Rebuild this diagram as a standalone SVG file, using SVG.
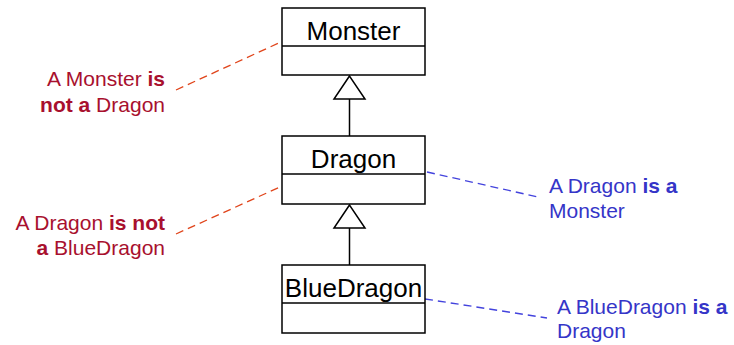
<svg xmlns="http://www.w3.org/2000/svg" width="734" height="345" viewBox="0 0 734 345">
<style>
.box{fill:#fff;stroke:#000;stroke-width:1.5}
.cls{font-family:"Liberation Sans",Arial,sans-serif;font-size:26px;fill:#000;text-anchor:middle}
.inh{fill:none;stroke:#000;stroke-width:1.5}
.tri{fill:#fff;stroke:#000;stroke-width:1.5}
.rl{stroke:#E0441A;stroke-width:1.3;stroke-dasharray:8 5;fill:none}
.bl{stroke:#4343DD;stroke-width:1.3;stroke-dasharray:8 5;fill:none}
.rt{font-family:"Liberation Sans",Arial,sans-serif;font-size:21px;fill:#A8102E;text-anchor:end}
.bt{font-family:"Liberation Sans",Arial,sans-serif;font-size:21px;fill:#3535C8}
.b{font-weight:bold}
</style>
<g id="connectors">
<line class="inh" x1="349.5" y1="99" x2="349.5" y2="136"/>
<polygon class="tri" points="349.5,76 334,99 365,99"/>
<line class="inh" x1="349.5" y1="228" x2="349.5" y2="265"/>
<polygon class="tri" points="349.5,205 334,228 365,228"/>
<line class="rl" x1="176" y1="90" x2="281" y2="42"/>
<line class="rl" x1="176" y1="234" x2="280" y2="187"/>
<line class="bl" x1="427" y1="172" x2="538" y2="197"/>
<line class="bl" x1="425" y1="299" x2="547" y2="318"/>
</g>
<g id="monster">
<rect class="box" x="282" y="8" width="143" height="67"/>
<line class="box" x1="282" y1="46" x2="425" y2="46"/>
<text class="cls" x="353.5" y="40">Monster</text>
</g>
<g id="dragon">
<rect class="box" x="282" y="136" width="143" height="68"/>
<line class="box" x1="282" y1="174" x2="425" y2="174"/>
<text class="cls" x="353.5" y="168">Dragon</text>
</g>
<g id="bluedragon">
<rect class="box" x="282" y="265" width="143" height="68"/>
<line class="box" x1="282" y1="303" x2="425" y2="303"/>
<text class="cls" x="353.5" y="297">BlueDragon</text>
</g>
<g id="note-monster-not-dragon">
<text class="rt" x="165" y="86">A Monster <tspan class="b">is</tspan></text>
<text class="rt" x="165" y="112"><tspan class="b">not a</tspan> Dragon</text>
</g>
<g id="note-dragon-not-bluedragon">
<text class="rt" x="165" y="230">A Dragon <tspan class="b">is not</tspan></text>
<text class="rt" x="165" y="255"><tspan class="b">a</tspan> BlueDragon</text>
</g>
<g id="note-dragon-is-monster">
<text class="bt" x="549" y="193">A Dragon <tspan class="b">is a</tspan></text>
<text class="bt" x="549" y="218">Monster</text>
</g>
<g id="note-bluedragon-is-dragon">
<text class="bt" x="557" y="314">A BlueDragon <tspan class="b">is a</tspan></text>
<text class="bt" x="557" y="338">Dragon</text>
</g>
</svg>
